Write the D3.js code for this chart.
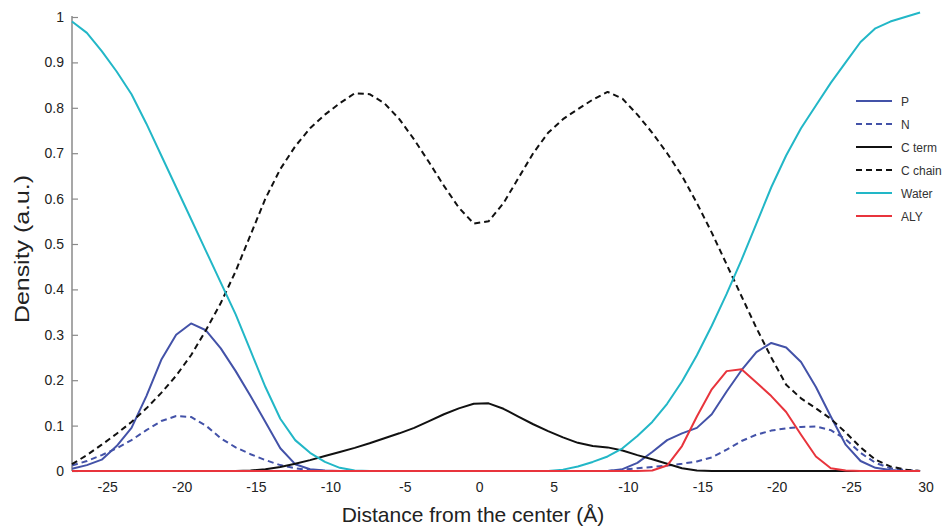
<!DOCTYPE html>
<html>
<head>
<meta charset="utf-8">
<script src="https://cdn.jsdelivr.net/npm/d3@7"></script>
<style>
  body { margin: 0; background: #fff; }
  svg { font-family: "Liberation Sans", Arial, sans-serif; }
</style>
</head>
<body>
<div class="container"></div>
<script>
// distance grid (Å)
const xs = [-27.5,-26.5,-25.5,-24.5,-23.5,-22.5,-21.5,-20.5,-19.5,-18.5,-17.5,-16.5,-15.5,-14.5,-13.5,-12.5,-11.5,-10.5,-9.5,-8.5,
  -7.5,-6.5,-5.5,-4.5,-3.5,-2.5,-1.5,-0.5,0.5,1.5,2.5,3.5,4.5,5.5,6.5,7.5,8.5,9.5,10.5,11.5,
  12.5,13.5,14.5,15.5,16.5,17.5,18.5,19.5,20.5,21.5,22.5,23.5,24.5,25.5,26.5,27.5,28.5,29.5];

const P = [0.005,0.013,0.025,0.055,0.095,0.165,0.245,0.3,0.325,0.31,0.27,0.22,0.165,0.108,0.05,0.015,0.004,0.001,0,0,
  0,0,0,0,0,0,0,0,0,0,0,0,0,0,0,0,0,0.004,0.018,0.042,
  0.068,0.083,0.095,0.125,0.175,0.222,0.262,0.282,0.272,0.24,0.185,0.12,0.058,0.022,0.007,0.002,0,0];

const N = [0.012,0.022,0.035,0.05,0.068,0.09,0.11,0.121,0.119,0.1,0.072,0.052,0.037,0.024,0.013,0.006,0.002,0,0,0,
  0,0,0,0,0,0,0,0,0,0,0,0,0,0,0,0,0,0.003,0.006,0.009,
  0.012,0.016,0.021,0.03,0.047,0.066,0.08,0.089,0.094,0.097,0.098,0.09,0.07,0.04,0.018,0.006,0.002,0];

const cTerm = [0,0,0,0,0,0,0,0,0,0,0,0,0.001,0.004,0.009,0.016,0.024,0.033,0.042,0.051,
  0.061,0.072,0.083,0.095,0.11,0.125,0.138,0.148,0.149,0.137,0.12,0.103,0.088,0.074,0.062,0.055,0.052,0.045,0.035,0.026,
  0.016,0.006,0.001,0,0,0,0,0,0,0,0,0,0,0,0,0,0,0];

const cChain = [0.015,0.035,0.058,0.082,0.108,0.138,0.172,0.21,0.255,0.31,0.37,0.44,0.52,0.6,0.665,0.715,0.755,0.785,0.81,0.832,
  0.83,0.81,0.775,0.73,0.68,0.628,0.58,0.545,0.55,0.59,0.645,0.7,0.745,0.775,0.797,0.818,0.835,0.82,0.785,0.745,
  0.7,0.65,0.59,0.525,0.455,0.385,0.315,0.25,0.19,0.16,0.138,0.115,0.085,0.052,0.025,0.01,0.003,0];

const water = [0.99,0.965,0.925,0.88,0.83,0.765,0.695,0.625,0.555,0.485,0.415,0.345,0.265,0.185,0.115,0.068,0.04,0.02,0.007,0.001,
  0,0,0,0,0,0,0,0,0,0,0,0,0,0.003,0.01,0.02,0.032,0.05,0.077,0.108,
  0.148,0.197,0.255,0.32,0.39,0.465,0.545,0.625,0.695,0.755,0.805,0.855,0.9,0.945,0.975,0.99,1.0,1.01];

const aly = [0,0,0,0,0,0,0,0,0,0,0,0,0,0,0,0,0,0,0,0,
  0,0,0,0,0,0,0,0,0,0,0,0,0,0,0,0,0,0,0,0.001,
  0.012,0.055,0.12,0.18,0.22,0.224,0.195,0.165,0.13,0.08,0.032,0.006,0.001,0,0,0,0,0];

const seriesNames = ["P", "N", "C term", "C chain", "Water", "ALY"];
const yTicks = [0,0.1,0.2,0.3,0.4,0.5,0.6,0.7,0.8,0.9,1];
const xTicks = [-25,-20,-15,-10,-5,0,5,10,15,20,25,30];
const xTickLabels = ["-25","-20","-15","-10","-5","0","5","-10","-15","-20","-25","30"];

const WIDTH = 948, HEIGHT = 526;
const colors = ["#4352a8", "#4352a8", "#111111", "#111111", "#22b7c7", "#e8343c"];
const dashes = [null, "6,4", null, "6,4", null, null];
const allSeries = [P, N, cTerm, cChain, water, aly];

const svg = d3.select(".container").append("svg")
  .attr("width", WIDTH).attr("height", HEIGHT);

const x = d3.scaleLinear().domain([-27.5, 30]).range([72, 927.5]);
const y = d3.scaleLinear().domain([0, 1]).range([471, 17]);

// y axis (ticks point inward)
const yAxis = svg.append("g").attr("transform", "translate(72,0)")
  .call(d3.axisLeft(y).tickValues(yTicks).tickFormat(d => d).tickSize(-6).tickPadding(8));
yAxis.select(".domain").attr("d", "M0,471V16").attr("stroke", "#8a8a8a").attr("stroke-width", 1.5);
yAxis.selectAll(".tick line").attr("stroke", "#8a8a8a").attr("stroke-width", 1.2);
yAxis.selectAll("text").attr("font-size", 14).attr("fill", "#222");

// x axis: labels only
const xAxis = svg.append("g").attr("transform", "translate(-2,471)")
  .call(d3.axisBottom(x).tickValues(xTicks).tickFormat((d, i) => xTickLabels[i]).tickSize(0).tickPadding(11));
xAxis.select(".domain").remove();
xAxis.selectAll("text").attr("font-size", 14).attr("fill", "#222");

// lines
const line = d3.line().x((d, i) => x(xs[i])).y(d => y(d));
allSeries.forEach((s, k) => {
  svg.append("path")
    .datum(s)
    .attr("d", line)
    .attr("fill", "none")
    .attr("stroke", colors[k])
    .attr("stroke-width", 2)
    .attr("stroke-dasharray", dashes[k])
    .attr("stroke-linejoin", "round");
});

// titles
svg.append("text")
  .attr("x", 473).attr("y", 522)
  .attr("text-anchor", "middle").attr("font-size", 21).attr("fill", "#222")
  .text("Distance from the center (Å)");
svg.append("text")
  .attr("transform", "translate(29,249) rotate(-90)")
  .attr("text-anchor", "middle").attr("font-size", 21).attr("fill", "#222")
  .attr("textLength", 148).attr("lengthAdjust", "spacingAndGlyphs")
  .text("Density (a.u.)");

// legend
const legend = svg.append("g").attr("transform", "translate(856,101)");
seriesNames.forEach((name, k) => {
  const row = legend.append("g").attr("transform", "translate(0," + (k * 23) + ")");
  row.append("line")
    .attr("x1", 0).attr("x2", 36).attr("y1", 0).attr("y2", 0)
    .attr("stroke", colors[k]).attr("stroke-width", 2)
    .attr("stroke-dasharray", dashes[k]);
  row.append("text")
    .attr("x", 45).attr("y", 4.5)
    .attr("font-size", 12).attr("fill", "#333")
    .text(name);
});
</script>
</body>
</html>
